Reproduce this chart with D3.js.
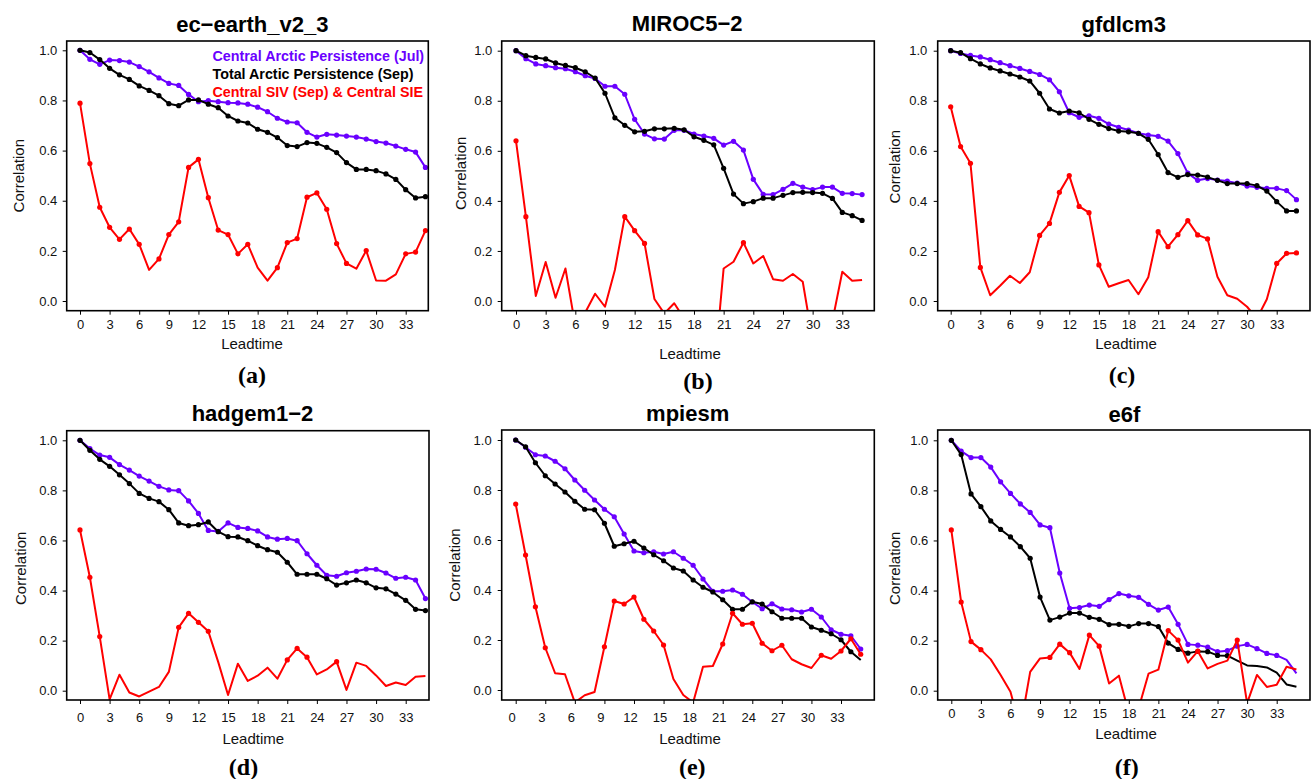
<!DOCTYPE html>
<html>
<head>
<meta charset="utf-8">
<script src="https://cdn.jsdelivr.net/npm/d3@7"></script>
<style>
  body { margin: 0; background: #fff; }
  text { font-family: "Liberation Sans", Arial, Helvetica, sans-serif; }
</style>
</head>
<body>
<div id="chart"></div>
<script>

// leadtimes and axis ticks

let leadtime = [0,1,2,3,4,5,6,7,8,9,10,11,12,13,14,15,16,17,18,19,20,21,22,23,24,25,26,27,28,29,30,31,32,33,34,35];
let xTicks = [0, 3, 6, 9, 12, 15, 18, 21, 24, 27, 30, 33];
let yTicks = [0, 0.2, 0.4, 0.6, 0.8, 1.0];

let titles = ["ec\u2212earth_v2_3", "MIROC5\u22122", "gfdlcm3", "hadgem1\u22122", "mpiesm", "e6f"];
let tags = ["(a)", "(b)", "(c)", "(d)", "(e)", "(f)"];
let seriesNames = ["Central Arctic Persistence (Jul)", "Total Arctic Persistence (Sep)", "Central SIV (Sep) & Central SIE"];

// (a) ec-earth_v2_3
let ecJul = [1.0,0.964,0.944,0.961,0.959,0.953,0.935,0.914,0.890,0.868,0.860,0.824,0.795,0.799,0.795,0.791,0.790,0.785,0.773,0.755,0.729,0.714,0.711,0.673,0.654,0.665,0.662,0.658,0.654,0.646,0.636,0.630,0.618,0.605,0.594,0.533];
let ecSep = [1.0,0.991,0.963,0.928,0.902,0.884,0.858,0.840,0.819,0.787,0.779,0.802,0.802,0.785,0.771,0.738,0.718,0.710,0.685,0.673,0.652,0.620,0.616,0.632,0.629,0.613,0.592,0.552,0.525,0.525,0.520,0.507,0.485,0.444,0.411,0.416];
let ecSiv = [0.789,0.548,0.374,0.294,0.246,0.287,0.226,0.124,0.168,0.265,0.316,0.533,0.565,0.412,0.283,0.265,0.188,0.226,0.133,0.081,0.133,0.233,0.249,0.414,0.431,0.366,0.229,0.150,0.129,0.201,0.082,0.081,0.106,0.188,0.195,0.281];

// (b) MIROC5-2
let mirocJul = [1.0,0.968,0.947,0.940,0.932,0.928,0.916,0.900,0.889,0.858,0.858,0.826,0.726,0.667,0.648,0.647,0.682,0.682,0.667,0.659,0.650,0.623,0.638,0.603,0.486,0.426,0.425,0.446,0.470,0.455,0.445,0.455,0.455,0.430,0.429,0.425];
let mirocSep = [1.0,0.980,0.973,0.967,0.951,0.941,0.932,0.916,0.891,0.830,0.732,0.702,0.676,0.678,0.688,0.688,0.690,0.684,0.656,0.642,0.624,0.530,0.427,0.389,0.397,0.411,0.411,0.422,0.433,0.434,0.433,0.430,0.410,0.354,0.341,0.322];
let mirocSiv = [0.640,0.337,0.020,0.156,0.013,0.130,-0.10,-0.046,0.029,-0.023,0.124,0.337,0.281,0.230,0.008,-0.05,-0.009,-0.07,-0.15,-0.20,-0.30,0.130,0.157,0.233,0.150,0.180,0.087,0.081,0.108,0.077,-0.157,-0.15,-0.08,0.117,0.081,0.084];

// (c) gfdlcm3
let gfdlJul = [1.0,0.989,0.981,0.975,0.964,0.952,0.940,0.929,0.917,0.905,0.884,0.836,0.752,0.734,0.740,0.730,0.707,0.694,0.683,0.670,0.663,0.658,0.639,0.589,0.511,0.482,0.489,0.483,0.479,0.471,0.459,0.454,0.450,0.450,0.441,0.405];
let gfdlSep = [1.0,0.992,0.968,0.947,0.931,0.919,0.907,0.895,0.879,0.830,0.767,0.751,0.759,0.752,0.726,0.706,0.689,0.679,0.676,0.670,0.646,0.585,0.513,0.494,0.505,0.503,0.495,0.482,0.469,0.469,0.469,0.461,0.439,0.397,0.360,0.360];
let gfdlSiv = [0.776,0.617,0.550,0.134,0.023,0.061,0.101,0.072,0.115,0.262,0.310,0.434,0.501,0.378,0.353,0.144,0.057,0.071,0.084,0.027,0.095,0.277,0.217,0.265,0.321,0.264,0.248,0.097,0.023,0.009,-0.023,-0.07,0.007,0.150,0.190,0.192];

// (d) hadgem1-2
let hadJul = [1.0,0.967,0.941,0.932,0.903,0.881,0.857,0.837,0.816,0.802,0.799,0.758,0.708,0.640,0.636,0.670,0.652,0.648,0.638,0.614,0.605,0.608,0.599,0.547,0.501,0.461,0.457,0.471,0.477,0.486,0.485,0.470,0.449,0.453,0.442,0.368];
let hadSep = [1.0,0.960,0.924,0.896,0.862,0.827,0.788,0.768,0.755,0.723,0.670,0.659,0.663,0.674,0.635,0.615,0.614,0.599,0.579,0.563,0.553,0.513,0.465,0.465,0.465,0.447,0.422,0.431,0.442,0.431,0.411,0.407,0.386,0.361,0.325,0.320];
let hadSiv = [0.642,0.453,0.216,-0.035,0.064,-0.007,-0.023,-0.004,0.015,0.075,0.253,0.309,0.273,0.237,0.115,-0.017,0.108,0.039,0.060,0.092,0.048,0.123,0.169,0.134,0.065,0.085,0.116,0.003,0.112,0.099,0.061,0.019,0.033,0.023,0.056,0.059];

// (e) mpiesm
let mpiJul = [1.0,0.971,0.941,0.936,0.915,0.885,0.840,0.799,0.760,0.723,0.693,0.624,0.556,0.549,0.553,0.544,0.553,0.527,0.499,0.444,0.395,0.395,0.400,0.383,0.352,0.325,0.345,0.324,0.321,0.312,0.323,0.292,0.241,0.223,0.217,0.164];
let mpiSep = [1.0,0.973,0.909,0.857,0.824,0.792,0.755,0.723,0.721,0.667,0.575,0.585,0.595,0.568,0.541,0.517,0.488,0.476,0.440,0.411,0.392,0.361,0.323,0.323,0.353,0.344,0.313,0.287,0.287,0.287,0.252,0.239,0.225,0.201,0.153,0.120];
let mpiSiv = [0.744,0.540,0.333,0.169,0.067,0.063,-0.05,-0.021,-0.008,0.173,0.356,0.344,0.372,0.283,0.236,0.180,0.044,-0.020,-0.05,0.093,0.096,0.184,0.307,0.263,0.267,0.187,0.157,0.179,0.123,0.103,0.088,0.139,0.125,0.156,0.205,0.143];

// (f) e6f
let e6fJul = [1.0,0.957,0.931,0.931,0.893,0.834,0.788,0.746,0.712,0.662,0.651,0.470,0.329,0.332,0.342,0.337,0.364,0.388,0.379,0.373,0.345,0.322,0.334,0.265,0.185,0.182,0.174,0.156,0.160,0.178,0.185,0.168,0.149,0.141,0.123,0.069];
let e6fSep = [1.0,0.943,0.786,0.735,0.678,0.644,0.614,0.575,0.529,0.374,0.282,0.294,0.310,0.310,0.293,0.285,0.264,0.265,0.257,0.268,0.268,0.256,0.190,0.165,0.150,0.157,0.156,0.141,0.140,0.120,0.101,0.099,0.093,0.072,0.025,0.016];
let e6fSiv = [0.642,0.354,0.196,0.164,0.125,0.063,-0.004,-0.15,0.075,0.129,0.133,0.186,0.152,0.087,0.222,0.178,0.029,0.060,-0.09,-0.07,0.068,0.084,0.240,0.202,0.112,0.158,0.089,0.107,0.120,0.202,-0.05,0.063,0.015,0.024,0.096,0.085];

// leadtimes that carry a point marker (significant correlations)
let allMarked = leadtime;
let ecSivMarked = [0,1,2,3,4,5,6,8,9,10,11,12,13,14,15,16,17,20,21,22,23,24,25,26,27,29,33,34,35];
let mirocSivMarked = [0,1,11,12,13,23];
let gfdlSivMarked = [0,1,2,3,9,10,11,12,13,14,15,21,22,23,24,25,26,33,34,35];
let hadSivMarked = [0,1,2,10,11,12,13,21,22,23,26];
let mpiSepMarked = leadtime.slice(0, 35);
let mpiSivMarked = [0,1,2,3,9,10,11,12,13,14,15,21,22,23,24,25,26,27,31,33,34,35];
let e6fJulMarked = leadtime.slice(0, 34);
let e6fSepMarked = leadtime.slice(0, 29);
let e6fSivMarked = [0,1,2,3,10,11,12,14,15,22,23,25,29];

let panelData = [
  [[ecJul, allMarked], [ecSep, allMarked], [ecSiv, ecSivMarked]],
  [[mirocJul, allMarked], [mirocSep, allMarked], [mirocSiv, mirocSivMarked]],
  [[gfdlJul, allMarked], [gfdlSep, allMarked], [gfdlSiv, gfdlSivMarked]],
  [[hadJul, allMarked], [hadSep, allMarked], [hadSiv, hadSivMarked]],
  [[mpiJul, allMarked], [mpiSep, mpiSepMarked], [mpiSiv, mpiSivMarked]],
  [[e6fJul, e6fJulMarked], [e6fSep, e6fSepMarked], [e6fSiv, e6fSivMarked]]
];

let colors = ["#6a00ff", "#000000", "#ff0000"];

// where each panel sits on the page (plot box, scale anchors, label spots)

let layout = [
  {L:66.7, R:428.3, T:41, B:310.7, x0:80, x33:405.7, y0:301, y1:50.3, titleX:252.3, titleY:24, leadX:252, leadY:343.3, tagX:252, tagY:375, corrX:18.3, corrY:175.7, yLabR:57.3, xLabY:324, xLabDx:0},
  {L:501.7, R:874.3, T:41, B:310.7, x0:516, x33:842.3, y0:301, y1:50.7, titleX:687.2, titleY:23.3, leadX:690, leadY:354, tagX:698, tagY:381, corrX:460.7, corrY:173.3, yLabR:492.3, xLabY:324, xLabDx:0},
  {L:937.7, R:1310, T:41, B:310.7, x0:950.7, x33:1276.7, y0:301, y1:50.7, titleX:1123.7, titleY:24, leadX:1126, leadY:343.3, tagX:1122, tagY:375, corrX:895, corrY:166.7, yLabR:927.3, xLabY:324, xLabDx:0},
  {L:66.7, R:429, T:430.7, B:700, x0:80, x33:405.7, y0:690.7, y1:440.3, titleX:252.5, titleY:412.7, leadX:253.3, leadY:738.3, tagX:243.5, tagY:766.7, corrX:20.7, corrY:568.3, yLabR:57.3, xLabY:717.7, xLabDx:0},
  {L:501.7, R:874.3, T:430, B:700, x0:515.7, x33:841, y0:690, y1:440, titleX:687.7, titleY:413.3, leadX:690, leadY:738.3, tagX:692.3, tagY:766.7, corrX:455, corrY:565, yLabR:491.7, xLabY:717.7, xLabDx:-4},
  {L:937.7, R:1310, T:430, B:700, x0:951.3, x33:1276.7, y0:690.7, y1:440.3, titleX:1124.5, titleY:414, leadX:1126, leadY:733.3, tagX:1126.7, tagY:766.7, corrX:895, corrY:568.3, yLabR:928.3, xLabY:713.3, xLabDx:0}
];

let svg = d3.select("#chart")
  .append("svg")
    .attr("width", 1312)
    .attr("height", 779);

let tickLen = 4;

layout.forEach((p, i) => {

  let x = d3.scaleLinear().domain([0, 33]).range([p.x0, p.x33]);
  let y = d3.scaleLinear().domain([0, 1]).range([p.y0, p.y1]);

  // clip so the lines stop at the plot frame

  svg.append("clipPath")
    .attr("id", "clip" + i)
    .append("rect")
      .attr("x", p.L)
      .attr("y", p.T)
      .attr("width", p.R - p.L)
      .attr("height", p.B - p.T);

  // x axis

  svg.append("g")
    .attr("transform", `translate(0,${p.B})`)
    .style("font-size", "13px")
    .call(d3.axisBottom(x)
      .tickValues(xTicks)
      .tickSize(tickLen)
      .tickPadding(p.xLabY - 4.6 - p.B - tickLen))
    .call(g => g.select(".domain").remove())
    .call(g => g.selectAll(".tick line").attr("stroke", "#000").attr("stroke-width", 1))
    .call(g => g.selectAll(".tick text")
      .attr("fill", "#111")
      .attr("dx", p.xLabDx)
      .style("font-family", "'Liberation Sans', Arial, sans-serif"));

  // y axis

  svg.append("g")
    .attr("transform", `translate(${p.L},0)`)
    .style("font-size", "13px")
    .call(d3.axisLeft(y)
      .tickValues(yTicks)
      .tickSize(tickLen)
      .tickPadding(p.L - p.yLabR - tickLen)
      .tickFormat(d3.format(".1f")))
    .call(g => g.select(".domain").remove())
    .call(g => g.selectAll(".tick line").attr("stroke", "#000").attr("stroke-width", 1))
    .call(g => g.selectAll(".tick text")
      .attr("fill", "#111")
      .style("font-family", "'Liberation Sans', Arial, sans-serif"));

  // the three series

  let plot = svg.append("g").attr("clip-path", `url(#clip${i})`);

  let line = d3.line()
    .x((d, k) => x(leadtime[k]))
    .y(d => y(d));

  panelData[i].forEach(([values, marked], s) => {
    plot.append("path")
      .datum(values)
      .attr("fill", "none")
      .attr("stroke", colors[s])
      .attr("stroke-width", 2)
      .attr("stroke-linejoin", "round")
      .attr("d", line);

    plot.selectAll(null)
      .data(marked)
      .join("circle")
      .attr("cx", k => x(leadtime[k]))
      .attr("cy", k => y(values[k]))
      .attr("r", 2.6)
      .attr("fill", colors[s]);
  });

  // plot frame

  svg.append("rect")
    .attr("x", p.L)
    .attr("y", p.T)
    .attr("width", p.R - p.L)
    .attr("height", p.B - p.T)
    .attr("fill", "none")
    .attr("stroke", "#000")
    .attr("stroke-width", 1.6);

  // titles and axis labels

  svg.append("text")
    .attr("x", p.titleX)
    .attr("y", p.titleY)
    .attr("dy", "0.36em")
    .attr("text-anchor", "middle")
    .style("font-size", "22px")
    .style("font-weight", "bold")
    .text(titles[i]);

  svg.append("text")
    .attr("transform", `translate(${p.corrX},${p.corrY}) rotate(-90)`)
    .attr("dy", "0.35em")
    .attr("text-anchor", "middle")
    .style("font-size", "15px")
    .style("fill", "#111")
    .text("Correlation");

  svg.append("text")
    .attr("x", p.leadX)
    .attr("y", p.leadY)
    .attr("dy", "0.35em")
    .attr("text-anchor", "middle")
    .style("font-size", "15px")
    .style("fill", "#111")
    .text("Leadtime");

  svg.append("text")
    .attr("x", p.tagX)
    .attr("y", p.tagY)
    .attr("dy", "0.33em")
    .attr("text-anchor", "middle")
    .style("font-family", "'Liberation Serif', 'Times New Roman', serif")
    .style("font-size", "24px")
    .style("font-weight", "bold")
    .text(tags[i]);
});

// legend, only in the first panel

svg.selectAll(".legend")
  .data(seriesNames)
  .join("text")
  .attr("class", "legend")
  .attr("x", 212.5)
  .attr("y", (d, k) => 55.7 + k * 18)
  .attr("dy", "0.36em")
  .style("font-size", "14.3px")
  .style("font-weight", "bold")
  .attr("fill", (d, k) => colors[k])
  .text(d => d);

</script>
</body>
</html>
